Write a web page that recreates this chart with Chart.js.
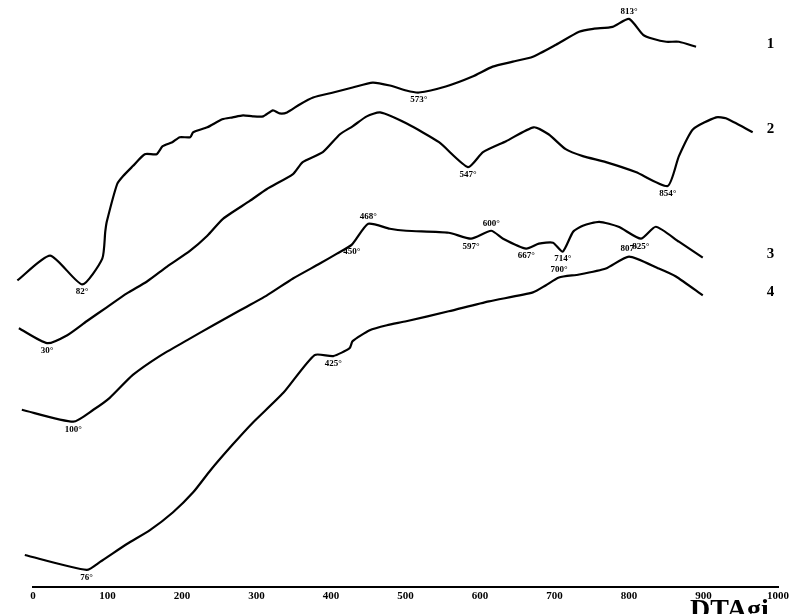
<!DOCTYPE html>
<html>
<head>
<meta charset="utf-8">
<title>DTA curves</title>
<script src="https://cdn.jsdelivr.net/npm/chart.js@4.4.1/dist/chart.umd.min.js"></script>
<style>
  html, body { margin: 0; padding: 0; background: #fff; }
  #wrap { position: relative; width: 812px; height: 614px; overflow: hidden; }
</style>
</head>
<body>
<div id="wrap"><canvas id="chart" width="812" height="614"></canvas></div>
<script>
// temperatura (°C) lida no eixo, e deflexão (unid. arbitrárias, de cima p/ baixo)
const curve1T = [-21, 23, 66, 93, 97, 99, 113, 121, 134, 150, 166, 174, 187, 197, 211, 215, 234, 254, 268, 282, 295, 309, 322, 331, 341, 358, 376, 403, 429, 456, 479, 501, 518, 554, 590, 617, 644, 671, 702, 733, 752, 778, 800, 819, 832, 850, 867, 890];
const curve1Y = [282, 257, 286, 260, 233, 223, 185, 177, 167, 155, 155, 147, 143, 138, 138, 133, 128, 120, 118, 116, 117, 117, 111, 114, 113, 105, 98, 93, 88, 83, 86, 91, 93, 87, 77, 67, 62, 57, 45, 32, 29, 27, 19, 35, 39, 42, 42, 47];

const curve2T = [-19, 19, 46, 72, 99, 126, 153, 180, 211, 234, 255, 291, 314, 349, 362, 389, 412, 429, 448, 466, 501, 545, 584, 604, 635, 672, 692, 715, 738, 769, 809, 852, 867, 886, 917, 930, 966];
const curve2Y = [330, 345, 337, 323, 309, 295, 283, 268, 252, 237, 220, 202, 190, 175, 163, 153, 135, 127, 117, 113, 124, 143, 168, 153, 142, 128, 135, 150, 157, 163, 173, 187, 157, 130, 118, 119, 133];

const curve3T = [-15, 54, 81, 103, 134, 170, 207, 242, 278, 314, 349, 385, 408, 428, 450, 479, 501, 558, 588, 615, 631, 662, 679, 698, 711, 725, 738, 760, 786, 816, 836, 867, 899];
const curve3Y = [412, 424, 412, 400, 377, 358, 342, 327, 312, 297, 280, 265, 255, 246, 225, 230, 232, 234, 240, 232, 240, 250, 245, 244, 253, 233, 227, 223, 228, 240, 228, 243, 259];

const curve4T = [-11, 72, 90, 126, 157, 188, 215, 238, 268, 295, 336, 378, 403, 425, 429, 452, 475, 501, 558, 612, 671, 688, 706, 733, 769, 800, 840, 863, 899];
const curve4Y = [558, 573, 565, 547, 533, 515, 495, 473, 447, 425, 395, 357, 358, 350, 343, 332, 327, 323, 313, 303, 294, 287, 279, 276, 270, 258, 270, 278, 297];

const curveNames = ["1", "2", "3", "4"];
const xTicks = [0, 100, 200, 300, 400, 500, 600, 700, 800, 900, 1000];

// picos / vales marcados: [curva, temperatura no eixo, texto, posição]
const peakLabels = [
  [0, 66, "82°", "below"], [0, 518, "573°", "below"], [0, 800, "813°", "above"],
  [1, 19, "30°", "below"], [1, 584, "547°", "below"], [1, 852, "854°", "below"],
  [2, 54, "100°", "below"], [2, 428, "450°", "below"], [2, 450, "468°", "above"],
  [2, 588, "597°", "below"], [2, 615, "600°", "above"], [2, 662, "667°", "below"],
  [2, 711, "714°", "below"], [2, 816, "825°", "below"],
  [3, 72, "76°", "below"], [3, 403, "425°", "below"], [3, 706, "700°", "above"], [3, 800, "807°", "above"]
];

const serif = '"Liberation Serif", "DejaVu Serif", serif';

function toPoints(ts, ys) {
  return ts.map((t, i) => ({ x: t, y: ys[i] }));
}

const series = [
  toPoints(curve1T, curve1Y),
  toPoints(curve2T, curve2Y),
  toPoints(curve3T, curve3Y),
  toPoints(curve4T, curve4Y),
];

const labelsPlugin = {
  id: "dtaLabels",
  afterDatasetsDraw(chart) {
    const ctx = chart.ctx;
    ctx.save();
    ctx.fillStyle = "#000";
    ctx.textAlign = "center";

    // rótulos dos picos
    ctx.font = "bold 9px " + serif;
    for (const [s, t, text, pos] of peakLabels) {
      const idx = series[s].findIndex(p => p.x === t);
      const el = chart.getDatasetMeta(s).data[idx];
      if (!el) continue;
      if (pos === "above") {
        ctx.textBaseline = "bottom";
        ctx.fillText(text, el.x, el.y - 3);
      } else {
        ctx.textBaseline = "top";
        ctx.fillText(text, el.x, el.y + 3);
      }
    }

    // número de cada curva, à direita
    ctx.font = "bold 15px " + serif;
    ctx.textBaseline = "middle";
    const xs = chart.scales.x;
    curveNames.forEach((name, s) => {
      const meta = chart.getDatasetMeta(s);
      const last = meta.data[meta.data.length - 1];
      ctx.fillText(name, xs.getPixelForValue(990), last.y - 3);
    });

    // pedaço da legenda cortada no rodapé
    ctx.font = "bold 28px " + serif;
    ctx.textAlign = "left";
    ctx.textBaseline = "top";
    ctx.fillText("DTAgi", 690, 597);
    ctx.restore();
  }
};

new Chart(document.getElementById("chart"), {
  type: "line",
  data: {
    datasets: series.map((pts, i) => ({
      label: "Curva " + curveNames[i],
      data: pts,
      borderColor: "#000",
      borderWidth: 2.2,
      pointRadius: 0,
      tension: 0.2,
      fill: false,
      clip: false,
    })),
  },
  options: {
    responsive: false,
    animation: false,
    layout: { padding: { left: 33, right: 34, top: 0, bottom: 8 } },
    plugins: {
      legend: { display: false },
      tooltip: { enabled: false },
    },
    scales: {
      x: {
        type: "linear",
        min: 0,
        max: 1000,
        afterBuildTicks: (axis) => { axis.ticks = xTicks.map(v => ({ value: v })); },
        grid: { display: false, drawTicks: false },
        border: { display: true, color: "#000", width: 2 },
        ticks: {
          color: "#000",
          padding: 3,
          maxRotation: 0,
          callback: (v) => String(v),
          font: { family: serif, size: 11, weight: "bold" },
        },
      },
      y: {
        display: false,
        reverse: true,
        min: 0,
        max: 590,
      },
    },
  },
  plugins: [labelsPlugin],
});
</script>
</body>
</html>
